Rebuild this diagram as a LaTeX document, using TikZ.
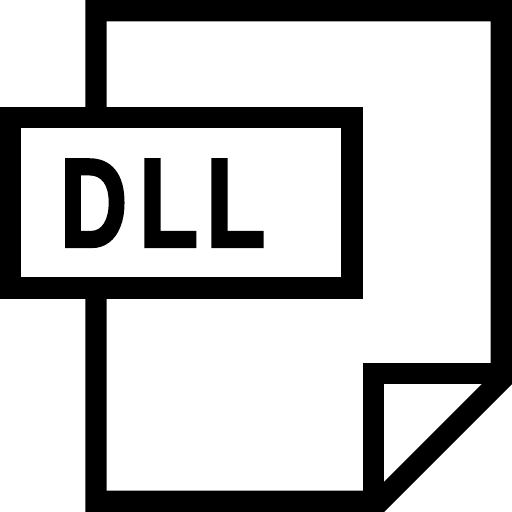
\documentclass[tikz,border=0pt]{standalone}
\usepackage{fontspec}
\setmainfont{Liberation Sans}
\newfontfamily\heavyfont[FakeBold=2.5]{Liberation Sans Bold}
\tikzset{
  iconline/.style={draw=black,line width=21.33pt,miter limit=10,line join=miter},
  labelbox/.style={iconline,fill=white},
  lettertext/.style={inner sep=0pt,outer sep=0pt,anchor=base west,text=black,font=\heavyfont\fontsize{126}{126}\selectfont,xscale=0.77}
}
\begin{document}
\begin{tikzpicture}[x=1pt,y=-1pt]
\useasboundingbox (0,0) rectangle (512,512);
\fill[white] (0,0) rectangle (512,512);
\coordinate (a) at (96,110);
\coordinate (b) at (96,10.67);
\coordinate (c) at (501.33,10.67);
\coordinate (d) at (501.33,379.67);
\coordinate (e) at (379.67,501.33);
\coordinate (f) at (96,501.33);
\coordinate (g) at (96,295);
\coordinate (h) at (373.33,501.33);
\coordinate (i) at (373.33,373.33);
\coordinate (j) at (501.33,373.33);
\draw[iconline] (a) -- (b) -- (c) -- (d) -- (e) -- (f) -- (g);
\draw[iconline] (h) -- (i) -- (j);
\draw[labelbox] (10.67,117.33) rectangle (352,288);
\node[lettertext,xscale=0.96] (t1) at (60,246.5) {D};
\node[lettertext] (t2) at (139,246.5) {L};
\node[lettertext] (t3) at (206,246.5) {L};
\end{tikzpicture}
\end{document}
